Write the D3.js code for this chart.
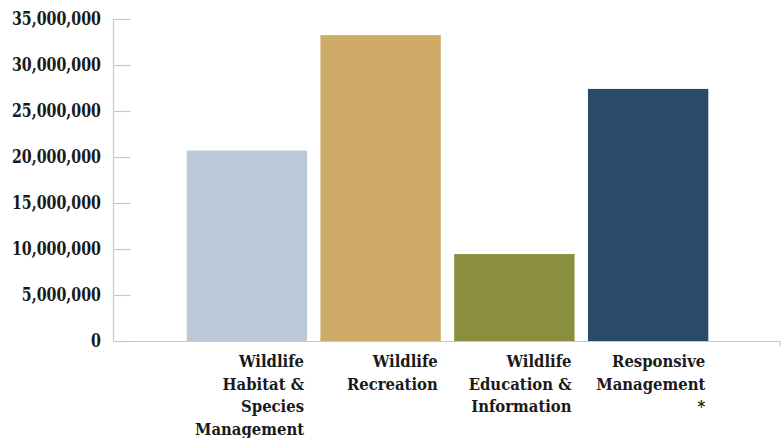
<!DOCTYPE html>
<html><head><meta charset="utf-8">
<script src="https://cdn.jsdelivr.net/npm/d3@7"></script>
<style>body{margin:0;background:#fff;} text{font-family:"DejaVu Serif",serif;font-weight:bold;fill:#1a1a1a;}</style>
</head><body>
<svg id="c" width="782" height="438"></svg>
<script>
const categories = [
  ["Wildlife","Habitat &","Species","Management"],
  ["Wildlife","Recreation"],
  ["Wildlife","Education &","Information"],
  ["Responsive","Management","*"]
];
const values = [20700000, 33250000, 9450000, 27400000];
const colors = ["#bac8d8", "#cfab68", "#8a8f40", "#2b4a68"];
const tickValues = [0, 5000000, 10000000, 15000000, 20000000, 25000000, 30000000, 35000000];

const svg = d3.select("#c");
const y = d3.scaleLinear().domain([0, 35000000]).range([341, 19]);
const x = d3.scaleBand().domain(d3.range(categories.length)).range([180, 715]).paddingInner(0.1).paddingOuter(0.05);
const axisX0 = 113.5, axisX1 = 780;

// bars
svg.selectAll("rect.bar").data(values).join("rect").attr("class","bar")
  .attr("x",(d,i)=>x(i)).attr("width",x.bandwidth())
  .attr("y",d=>y(d)).attr("height",d=>y(0)-y(d))
  .attr("fill",(d,i)=>colors[i]);

// y axis
const ya = svg.append("g").attr("transform",`translate(${axisX0},0)`)
  .call(d3.axisRight(y).tickValues(tickValues).tickSize(17).tickFormat(()=>""));
ya.select(".domain").remove();
ya.selectAll("line").attr("stroke","#c8c8c8").attr("stroke-width",1.2);
svg.append("line").attr("x1",axisX0).attr("x2",axisX0).attr("y1",y(35000000)).attr("y2",y(0)).attr("stroke","#c8c8c8").attr("stroke-width",1.2);
svg.selectAll("text.yt").data(tickValues).join("text").attr("class","yt")
  .attr("transform",d=>`translate(101,${y(d)}) scale(0.79,1)`)
  .attr("dy","0.36em").attr("text-anchor","end")
  .attr("font-size",18).text(d=>d3.format(",")(d));

// x baseline
svg.append("line").attr("x1",axisX0).attr("x2",axisX1).attr("y1",y(0)+0.5).attr("y2",y(0)+0.5).attr("stroke","#c8c8c8").attr("stroke-width",1.2);
svg.append("line").attr("x1",axisX1).attr("x2",axisX1).attr("y1",y(0)).attr("y2",y(0)+5).attr("stroke","#c8c8c8").attr("stroke-width",1.2);

// category labels
categories.forEach((lines,i)=>{
  const t = svg.append("text").attr("text-anchor","end").attr("font-size",16.5)
    .attr("transform",`translate(${x(i)+x.bandwidth()-3},367) scale(0.9,1)`);
  lines.forEach((s,j)=>t.append("tspan").attr("x",0).attr("y",j*22.7).text(s));
});
</script>
</body></html>
